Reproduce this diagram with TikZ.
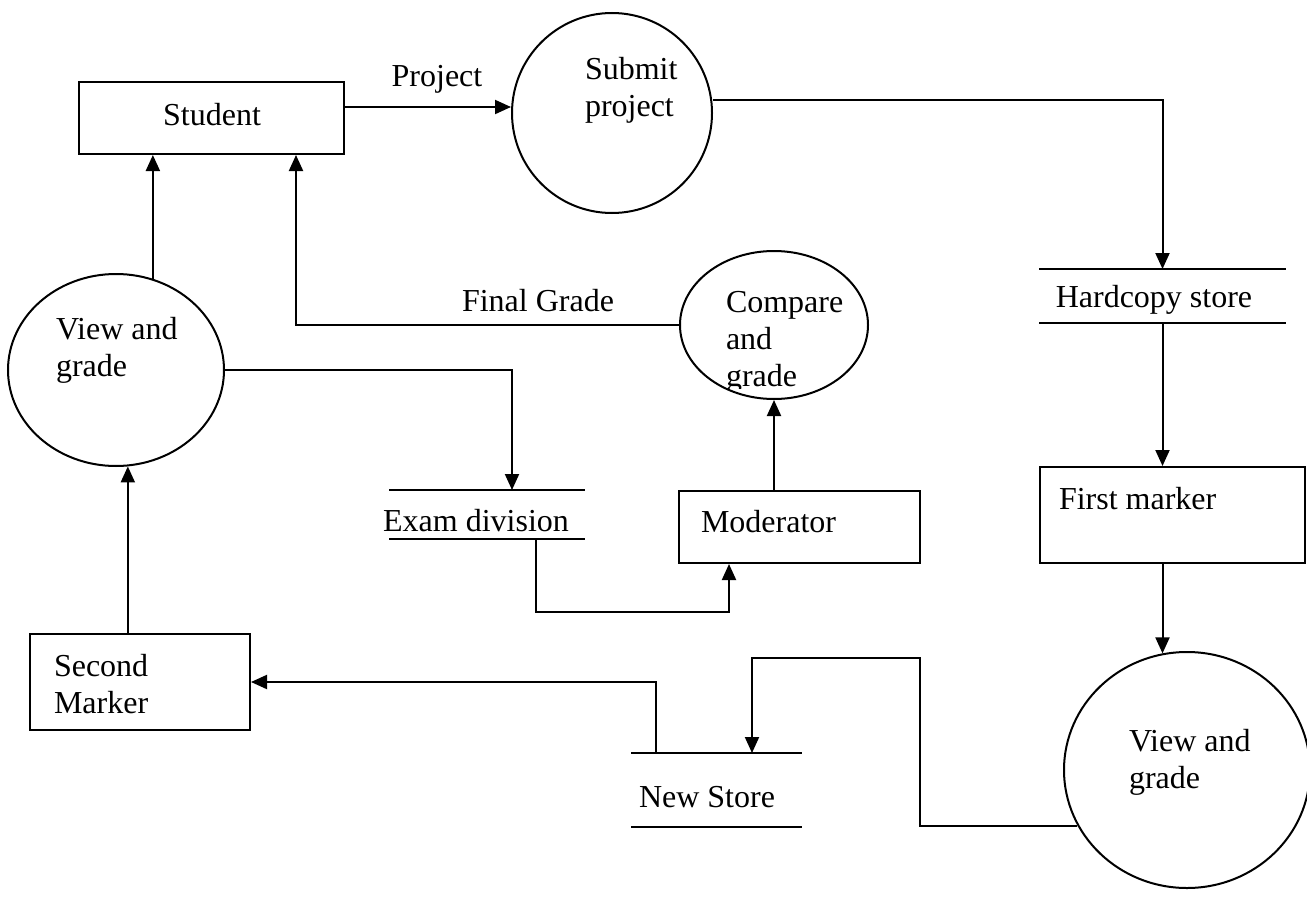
\documentclass[tikz,border=0pt]{standalone}
\usepackage{fontspec}
\setmainfont{Liberation Serif}
\usetikzlibrary{arrows.meta,shapes.geometric}
\begin{document}
\begin{tikzpicture}[x=1pt,y=-1pt,line width=2pt,
  box/.style={draw,rectangle,inner sep=0pt},
  oval/.style={draw,ellipse,inner sep=0pt},
  store/.style={rectangle,inner sep=0pt},
  txt/.style={font=\fontsize{32}{37}\selectfont,inner sep=0pt,align=left},
  arr/.style={-{Triangle[length=16pt,width=14pt]}}]
\useasboundingbox[fill=white] (0,0) rectangle (1307,902);

% shapes
\node[box,minimum width=265pt,minimum height=72pt] (stu) at (211.5,118) {};
\node[oval,minimum width=200pt,minimum height=200pt] (sub) at (612,113) {};
\node[store,minimum width=245pt,minimum height=52pt] (hc) at (1162.5,296) {};
\node[box,minimum width=265pt,minimum height=96pt] (fm) at (1172.5,515) {};
\node[oval,minimum width=246pt,minimum height=236pt] (vgR) at (1187,770) {};
\node[store,minimum width=169pt,minimum height=72pt] (ns) at (716.5,790) {};
\node[box,minimum width=220pt,minimum height=96pt] (sm) at (140,682) {};
\node[oval,minimum width=216pt,minimum height=192pt] (vgL) at (116,370) {};
\node[store,minimum width=194pt,minimum height=47pt] (ed) at (487,514.5) {};
\node[box,minimum width=241pt,minimum height=72pt] (mod) at (799.5,527) {};
\node[oval,minimum width=188pt,minimum height=148pt] (cmp) at (774,325) {};

% store lines
\foreach \s in {hc,ns,ed}{
  \draw (\s.north west) -- (\s.north east);
  \draw (\s.south west) -- (\s.south east);
}

% texts
\node[txt] (stut) at (212,115) {Student};
\node[txt,anchor=west] (subt) at (584,90) {Submit\\project};
\node[txt] (hct) at (1154,300) {Hardcopy store};
\node[txt,anchor=west] (fmt) at (1058,499) {First marker};
\node[txt,anchor=west] (vgRt) at (1128,762) {View and\\grade};
\node[txt] (nst) at (707,797) {New Store};
\node[txt,anchor=west] (smt) at (53,684) {Second\\Marker};
\node[txt,anchor=west] (vgLt) at (55,350) {View and\\grade};
\node[txt] (edt) at (476,521) {Exam division};
\node[txt,anchor=west] (modt) at (700,522) {Moderator};
\begin{scope}
  \clip (600,240) rectangle (900,388);
  \node[txt,anchor=west] (cmpt) at (725,342) {Compare\\and\\grade};
\end{scope}
\node[txt] (projl) at (437,79) {Project};
\node[txt] (fgl) at (538,301) {Final Grade};

% connectors
\coordinate (bend) at (920,658);
\draw[arr] ([yshift=11pt]stu.east) -- ([yshift=11pt]stu.east -| sub.west);
\draw[arr] ([yshift=13pt]sub.east) -| (hc.north);
\draw[arr] (hc.south) -- (hc.south |- fm.north);
\draw[arr] (hc.south |- fm.south) -- (hc.south |- vgR.102);
\draw[arr] (vgR.207) -| (bend) -| ([xshift=35.5pt]ns.north);
\draw[arr] ([xshift=-60.5pt]ns.north) |- (sm.east);
\draw[arr] (vgL.277 |- sm.north) -- (vgL.277);
\draw[arr] (vgL.68) -- (vgL.68 |- stu.south);
\draw[arr] (vgL.east) -| ([xshift=25pt]ed.north);
\draw[arr] ([xshift=49pt]ed.south) -- ++(0,73) -| ([xshift=-70.5pt]mod.south);
\draw[arr] (mod.north -| cmp.south) -- (cmp.south);
\draw[arr] (cmp.west) -| ([xshift=84.5pt]stu.south);
\end{tikzpicture}
\end{document}
